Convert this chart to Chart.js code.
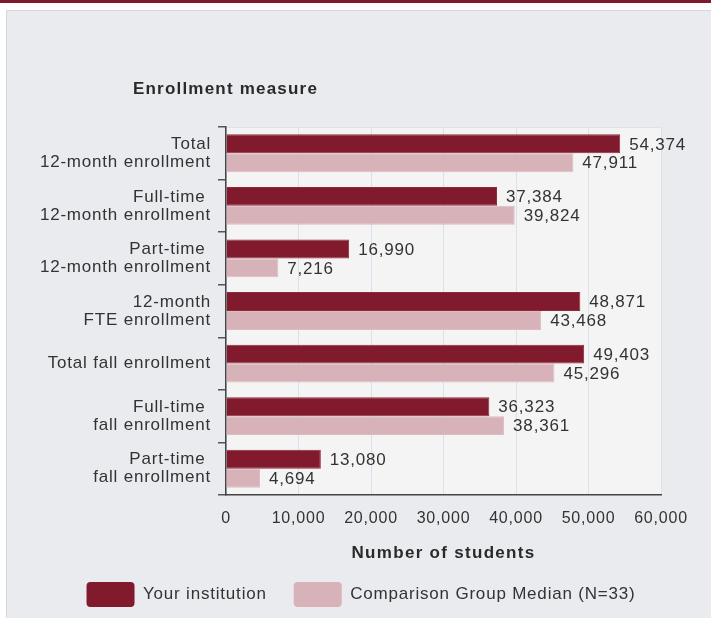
<!DOCTYPE html>
<html>
<head>
<meta charset="utf-8">
<script src="https://cdn.jsdelivr.net/npm/chart.js@4.4.1/dist/chart.umd.min.js"></script>
<style>
  html, body { margin: 0; padding: 0; background: #ffffff; width: 711px; height: 618px; overflow: hidden; }
  #topbar { position: absolute; left: 0; top: 0; width: 711px; height: 3px; background: #7d1a2c; }
  #panel { position: absolute; left: 6px; top: 10px; width: 720px; height: 620px; background: #eaebef; border: 1px solid #d6d7db; }
  #c { position: absolute; left: 0; top: 0; }
</style>
</head>
<body>
<div id="topbar"></div>
<div id="panel"></div>
<canvas id="c" width="711" height="618"></canvas>
<script>
const categories = [
  ["Total", "12-month enrollment"],
  ["Full-time ", "12-month enrollment"],
  ["Part-time ", "12-month enrollment"],
  ["12-month", "FTE enrollment"],
  "Total fall enrollment",
  ["Full-time ", "fall enrollment"],
  ["Part-time ", "fall enrollment"]
];
const yourInstitution = [54374, 37384, 16990, 48871, 49403, 36323, 13080];
const comparisonMedian = [47911, 39824, 7216, 43468, 45296, 38361, 4694];
const seriesNames = ["Your institution", "Comparison Group Median (N=33)"];
const xTicks = [0, 10000, 20000, 30000, 40000, 50000, 60000];
const yAxisTitle = "Enrollment measure";
const xAxisTitle = "Number of students";

const FONT = "'Liberation Sans', Arial, sans-serif";
const TEXT = '#333333';
const LS = '0.8px';

const fmt = v => v.toLocaleString('en-US');

const spacingPlugin = {
  id: 'spacing',
  beforeInit(chart) { chart.ctx.letterSpacing = LS; },
  beforeUpdate(chart) { chart.ctx.letterSpacing = LS; },
  beforeDraw(chart) { chart.ctx.letterSpacing = LS; },
  afterLayout(chart) {
    // centre the legend on the whole panel and place it like the reference
    const lg = chart.legend;
    if (lg) { lg.left = 0; lg.right = 722; lg.top = 555; }
  }
};

const plotBg = {
  id: 'plotBg',
  beforeDraw(chart) {
    const { ctx, chartArea: a } = chart;
    ctx.save();
    ctx.fillStyle = '#f4f4f4';
    ctx.fillRect(a.left, a.top, a.right - a.left, a.bottom - a.top);
    ctx.strokeStyle = '#e2e2e6';
    ctx.lineWidth = 1;
    ctx.beginPath();
    ctx.moveTo(a.left, a.top + 0.5);
    ctx.lineTo(a.right + 0.5, a.top + 0.5);
    ctx.lineTo(a.right + 0.5, a.bottom);
    ctx.stroke();
    ctx.restore();
  }
};

const titlesPlugin = {
  id: 'titles',
  afterDraw(chart) {
    const ctx = chart.ctx;
    const a = chart.chartArea;
    ctx.save();
    ctx.letterSpacing = '1.2px';
    ctx.font = `bold 17px ${FONT}`;
    ctx.fillStyle = '#2a2a2a';
    ctx.textBaseline = 'middle';
    ctx.textAlign = 'left';
    ctx.fillText(yAxisTitle, 133, 89);
    ctx.letterSpacing = '1.3px';
    ctx.textAlign = 'center';
    ctx.fillText(xAxisTitle, (a.left + a.right) / 2, 553);
    ctx.restore();
  }
};

const valueLabels = {
  id: 'valueLabels',
  afterDatasetsDraw(chart) {
    const ctx = chart.ctx;
    ctx.save();
    ctx.letterSpacing = LS;
    ctx.font = `17px ${FONT}`;
    ctx.fillStyle = TEXT;
    ctx.textAlign = 'left';
    ctx.textBaseline = 'middle';
    chart.data.datasets.forEach((ds, di) => {
      chart.getDatasetMeta(di).data.forEach((bar, i) => {
        ctx.fillText(fmt(ds.data[i]), bar.x + 9, bar.y + 1);
      });
    });
    ctx.restore();
  }
};

new Chart(document.getElementById('c'), {
  type: 'bar',
  data: {
    labels: categories,
    datasets: [
      { label: seriesNames[0], data: yourInstitution, backgroundColor: '#801a2c', borderColor: '#8e2a3b', borderWidth: 1, borderSkipped: 'left', categoryPercentage: 0.72, barPercentage: 1.0 },
      { label: seriesNames[1], data: comparisonMedian, backgroundColor: '#d7b2b8', borderColor: '#dcbcc1', borderWidth: 1, borderSkipped: 'left', categoryPercentage: 0.72, barPercentage: 1.0 }
    ]
  },
  options: {
    indexAxis: 'y',
    responsive: false,
    animation: false,
    devicePixelRatio: 1,
    layout: { padding: { left: 0, right: 50, top: 127, bottom: 0 } },
    scales: {
      x: {
        min: 0, max: 60000,
        afterBuildTicks(scale) { scale.ticks = xTicks.map(v => ({ value: v })); },
        afterFit(scale) { scale.height = 61; },
        grid: { color: '#d9e1ec', lineWidth: 1, drawTicks: false },
        border: { display: true, color: '#444', width: 1.5 },
        ticks: { padding: 14, color: TEXT, font: { family: FONT, size: 16 }, callback: v => fmt(v), maxRotation: 0, autoSkip: false },
        title: { display: false }
      },
      y: {
        afterFit(scale) { scale.width = 226; },
        grid: { display: true, drawOnChartArea: false, offset: true, drawTicks: true, tickLength: 8, color: '#555', lineWidth: 1.5 },
        border: { display: true, color: '#444', width: 1.5 },
        ticks: { padding: 7, color: TEXT, font: { family: FONT, size: 17, lineHeight: 1.06 }, autoSkip: false }
      }
    },
    plugins: {
      legend: {
        display: true,
        position: 'bottom',
        labels: {
          boxWidth: 48, boxHeight: 25, useBorderRadius: true, borderRadius: 4,
          color: TEXT, font: { family: FONT, size: 17 }, padding: 27,
          generateLabels(chart) {
            return chart.data.datasets.map((ds, i) => ({
              text: ds.label, fillStyle: ds.backgroundColor, strokeStyle: ds.backgroundColor,
              lineWidth: 0, datasetIndex: i, borderRadius: 4, fontColor: TEXT
            }));
          }
        }
      },
      tooltip: { enabled: false }
    }
  },
  plugins: [spacingPlugin, plotBg, titlesPlugin, valueLabels]
});
</script>
</body>
</html>
